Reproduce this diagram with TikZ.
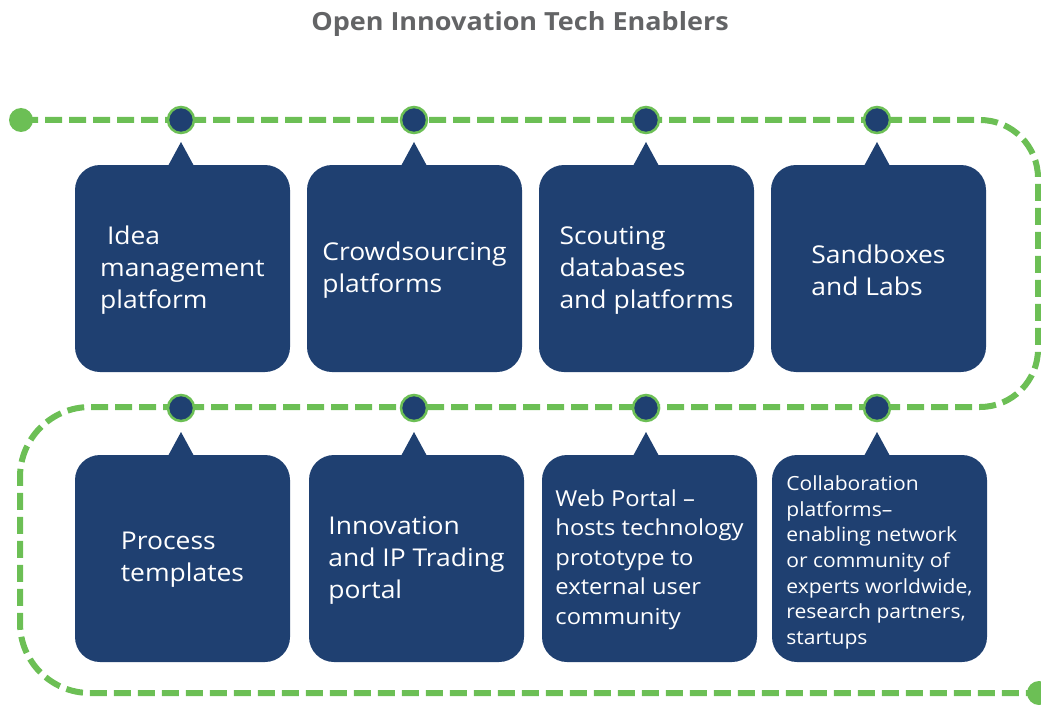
\documentclass[tikz,border=0pt]{standalone}
\usepackage{fontspec}
\setmainfont{Open Sans}[FakeStretch=1.08]
\definecolor{navy}{HTML}{1F4071}
\definecolor{lgreen}{HTML}{6CBF55}
\definecolor{titlegray}{HTML}{636466}
\tikzset{
  box/.style={fill=navy, rounded corners=25pt, minimum width=215pt, minimum height=207pt, inner sep=0pt},
  txt/.style={inner sep=0pt, align=left, text=white},
  pointer/.style={fill=navy},
  greenline/.style={draw=lgreen, line width=6pt, dash pattern=on 17pt off 7pt},
  navydot/.style={circle, fill=navy, draw=lgreen, line width=2.5pt, minimum size=26pt, inner sep=0pt},
  greendot/.style={circle, fill=lgreen, minimum size=24pt, inner sep=0pt},
  fbig/.style={font=\fontsize{24.5}{32}\selectfont},
  fmid/.style={font=\fontsize{22}{29.5}\selectfont},
  fsmall/.style={font=\fontsize{19.5}{25.7}\selectfont}
}
\begin{document}
\begin{tikzpicture}[x=1pt,y=-1pt]
\useasboundingbox (0,0) rectangle (1041,706);
\node[font=\fontsize{25}{30}\selectfont\bfseries, text=titlegray] (title) at (520,24) {Open Innovation Tech Enablers};

\coordinate (s) at (21,120);
\coordinate (e) at (1039,693);
\draw[greenline] (s) -- (980,120) arc[start angle=-90, end angle=0, radius=58]
  -- (1038,349) arc[start angle=0, end angle=90, radius=58]
  -- (90,407) arc[start angle=-90, end angle=-180, radius=70]
  -- (20,623) arc[start angle=180, end angle=90, radius=70]
  -- (e);
\node[greendot] (sdot) at (s) {};
\node[greendot] (edot) at (e) {};

% row 1
\node[box] (b1) at (182.5,268.5) {};
\node[box] (b2) at (414.5,268.5) {};
\node[box] (b3) at (646.5,268.5) {};
\node[box] (b4) at (878.5,268.5) {};
% row 2
\node[box] (c1) at (182.5,558.5) {};
\node[box] (c2) at (416.5,558.5) {};
\node[box] (c3) at (649.5,558.5) {};
\node[box] (c4) at (879.5,558.5) {};

\node[txt, fbig] (tb1) at ([yshift=-1.5pt]b1.center) {\ Idea\\management\\platform};
\node[txt, fbig] (tb2) at ([yshift=-1.5pt]b2.center) {Crowdsourcing\\platforms};
\node[txt, fbig] (tb3) at ([yshift=-1.5pt]b3.center) {Scouting\\databases\\and platforms};
\node[txt, fbig] (tb4) at ([yshift=-1.5pt]b4.center) {Sandboxes\\and Labs};
\node[txt, fbig] (tc1) at ([yshift=-1.5pt]c1.center) {Process\\templates};
\node[txt, fbig] (tc2) at ([yshift=-1.5pt]c2.center) {Innovation\\and IP Trading\\portal};
\node[txt, fmid] (tc3) at ([yshift=-1pt]c3.center) {Web Portal --\\hosts technology\\prototype to\\external user\\community};
\node[txt, fsmall] (tc4) at ([yshift=-4pt]c4.center) {Collaboration\\platforms--\\enabling network\\or community of\\experts worldwide,\\research partners,\\startups};

% dots and pointers
\foreach \n/\x in {d1/181, d2/414, d3/646, d4/877}{
  \fill[pointer] (\x-13,166) -- (\x,142) -- (\x+13,166) -- cycle;
  \node[navydot] (\n) at (\x,120) {};
}
\foreach \n/\x in {e1/181, e2/414, e3/646, e4/877}{
  \fill[pointer] (\x-13,456) -- (\x,432) -- (\x+13,456) -- cycle;
  \node[navydot] (\n) at (\x,408) {};
}
\end{tikzpicture}
\end{document}
